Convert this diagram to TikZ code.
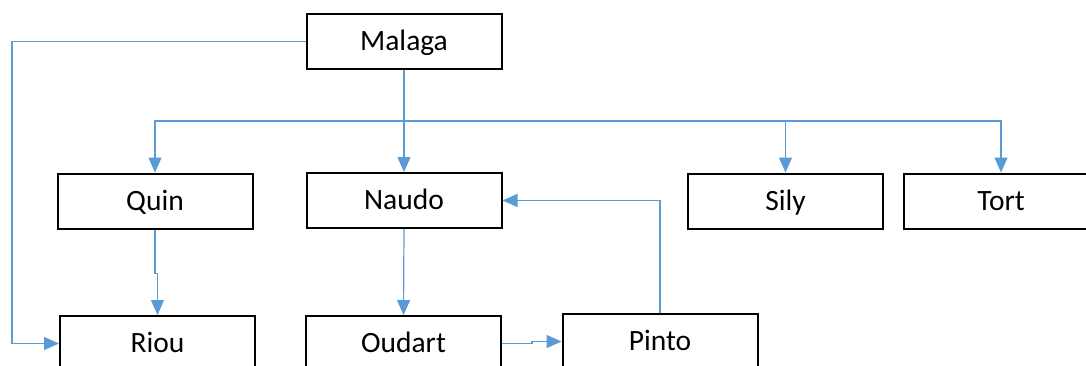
\documentclass[tikz,border=0pt]{standalone}
\usepackage{fontspec}
\setmainfont{Carlito}
\usetikzlibrary{arrows.meta}
\begin{document}
\begin{tikzpicture}[x=0.5pt,y=-0.5pt,
  box/.style={draw,line width=1pt,minimum width=97.5pt,minimum height=27.5pt,inner sep=0pt,text height=11pt,text depth=1.8pt,font=\fontsize{14.75}{17}\selectfont},
  link/.style={draw={rgb,255:red,91;green,155;blue,213},line width=0.6pt},
  arr/.style={link,-{Triangle[length=7.5pt,width=6.5pt]}}]
\useasboundingbox (0,0) rectangle (1086,365);
\node[box] (malaga) at (404,41.5) {Malaga};
\node[box] (quin) at (155,201) {Quin};
\node[box] (naudo) at (404,200.5) {Naudo};
\node[box] (sily) at (785.5,201) {Sily};
\node[box] (tort) at (1001,201) {Tort};
\node[box] (riou) at (157.5,343.5) {Riou};
\node[box] (oudart) at (403.5,343.5) {Oudart};
\node[box] (pinto) at (660,341.5) {Pinto};
\coordinate (bus) at (404,121);
\coordinate (lft) at (12,41.5);
% Malaga to the second row
\draw[arr] (malaga.south) -- (naudo.north);
\draw[arr] (bus) -| (quin.north);
\draw[arr] (bus) -| (sily.north);
\draw[arr] (bus) -| (tort.north);
% the rest
\draw[arr] (malaga.west) -- (lft) |- (riou.west);
\draw[arr] (quin.south) -- ++(0,44) -| (riou.north);
\draw[arr] (naudo.south) -- (oudart.north);
\draw[arr] (oudart.east) -- ++(30,0) |- (pinto.west);
\draw[arr] (pinto.north) |- (naudo.east);
\end{tikzpicture}
\end{document}
